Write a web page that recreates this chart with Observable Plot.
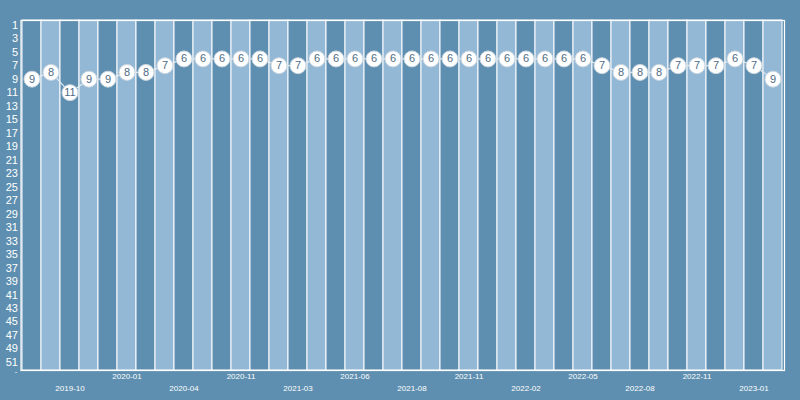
<!DOCTYPE html>
<html><head><meta charset="utf-8">
<script src="https://cdn.jsdelivr.net/npm/d3@7"></script>
<script src="https://cdn.jsdelivr.net/npm/@observablehq/plot@0.6"></script>
<style>
body{margin:0;background:#5e8fb0;}
#chart svg{display:block;}
</style>
</head><body><div id="chart"></div>
<script>
// 40 periods (columns); only every third one carries a label in the reference
const periods = d3.range(1, 41);
const ranks = [9,8,11,9,9,8,8,7,6,6,6,6,6,7,7,6,6,6,6,6,6,6,6,6,6,6,6,6,6,6,7,8,8,8,7,7,7,6,7,9];
const tickPeriods = [3,6,9,12,15,18,21,24,27,30,33,36,39];
const tickLabels = ["2019-10","2020-01","2020-04","2020-11","2021-03","2021-06","2021-08","2021-11","2022-02","2022-05","2022-08","2022-11","2023-01"];
const yTicks = [1,3,5,7,9,11,13,15,17,19,21,23,25,27,29,31,33,35,37,39,41,43,45,47,49,51];
const yEndTick = [52];

const labelOf = new Map(tickPeriods.map((p, i) => [p, tickLabels[i]]));
const row1 = tickPeriods.filter((p, i) => i % 2 === 1);
const row2 = tickPeriods.filter((p, i) => i % 2 === 0);
const data = periods.map((p, i) => ({period: p, rank: ranks[i]}));

const chart = Plot.plot({
  width: 800,
  height: 400,
  marginLeft: 20.5,
  marginRight: 16,
  marginTop: 20,
  marginBottom: 30,
  style: {background: "#5e8fb0", fontFamily: "'Liberation Sans', Arial, sans-serif", color: "white"},
  x: {type: "band", domain: periods, padding: 0, axis: null, label: null},
  y: {type: "linear", domain: [0.3, 52.2], reverse: true, axis: null, label: null},
  color: {type: "identity"},
  marks: [
    Plot.cell(periods, {x: d => d, fill: d => d % 2 ? "#5e8fb0" : "#93b8d6", stroke: "white", strokeWidth: 1, inset: 0}),
    Plot.axisY(yTicks, {tickSize: 0, tickPadding: 3, fontSize: 11, fill: "white", label: null}),
    Plot.axisY(yEndTick, {tickSize: 0, tickPadding: 4, fontSize: 7, dy: 3, fill: "white", label: null, tickFormat: () => "-"}),
    Plot.axisX(row1, {tickSize: 0, tickPadding: 3, fontSize: 8, fill: "white", label: null, tickFormat: d => labelOf.get(d)}),
    Plot.axisX(row2, {tickSize: 0, tickPadding: 15, fontSize: 8, fill: "white", label: null, tickFormat: d => labelOf.get(d)}),
    Plot.line(data, {x: "period", y: "rank", stroke: "#e4ecf2", strokeWidth: 1.2}),
    Plot.dot(data, {x: "period", y: "rank", r: 8, fill: "white", stroke: "#c9d5df", strokeWidth: 1}),
    Plot.text(data, {x: "period", y: "rank", text: "rank", fill: "#4f6b84", fontSize: 11}),
    Plot.frame({stroke: "white", strokeWidth: 1.2})
  ]
});
document.getElementById("chart").appendChild(chart);
</script>
</body></html>
